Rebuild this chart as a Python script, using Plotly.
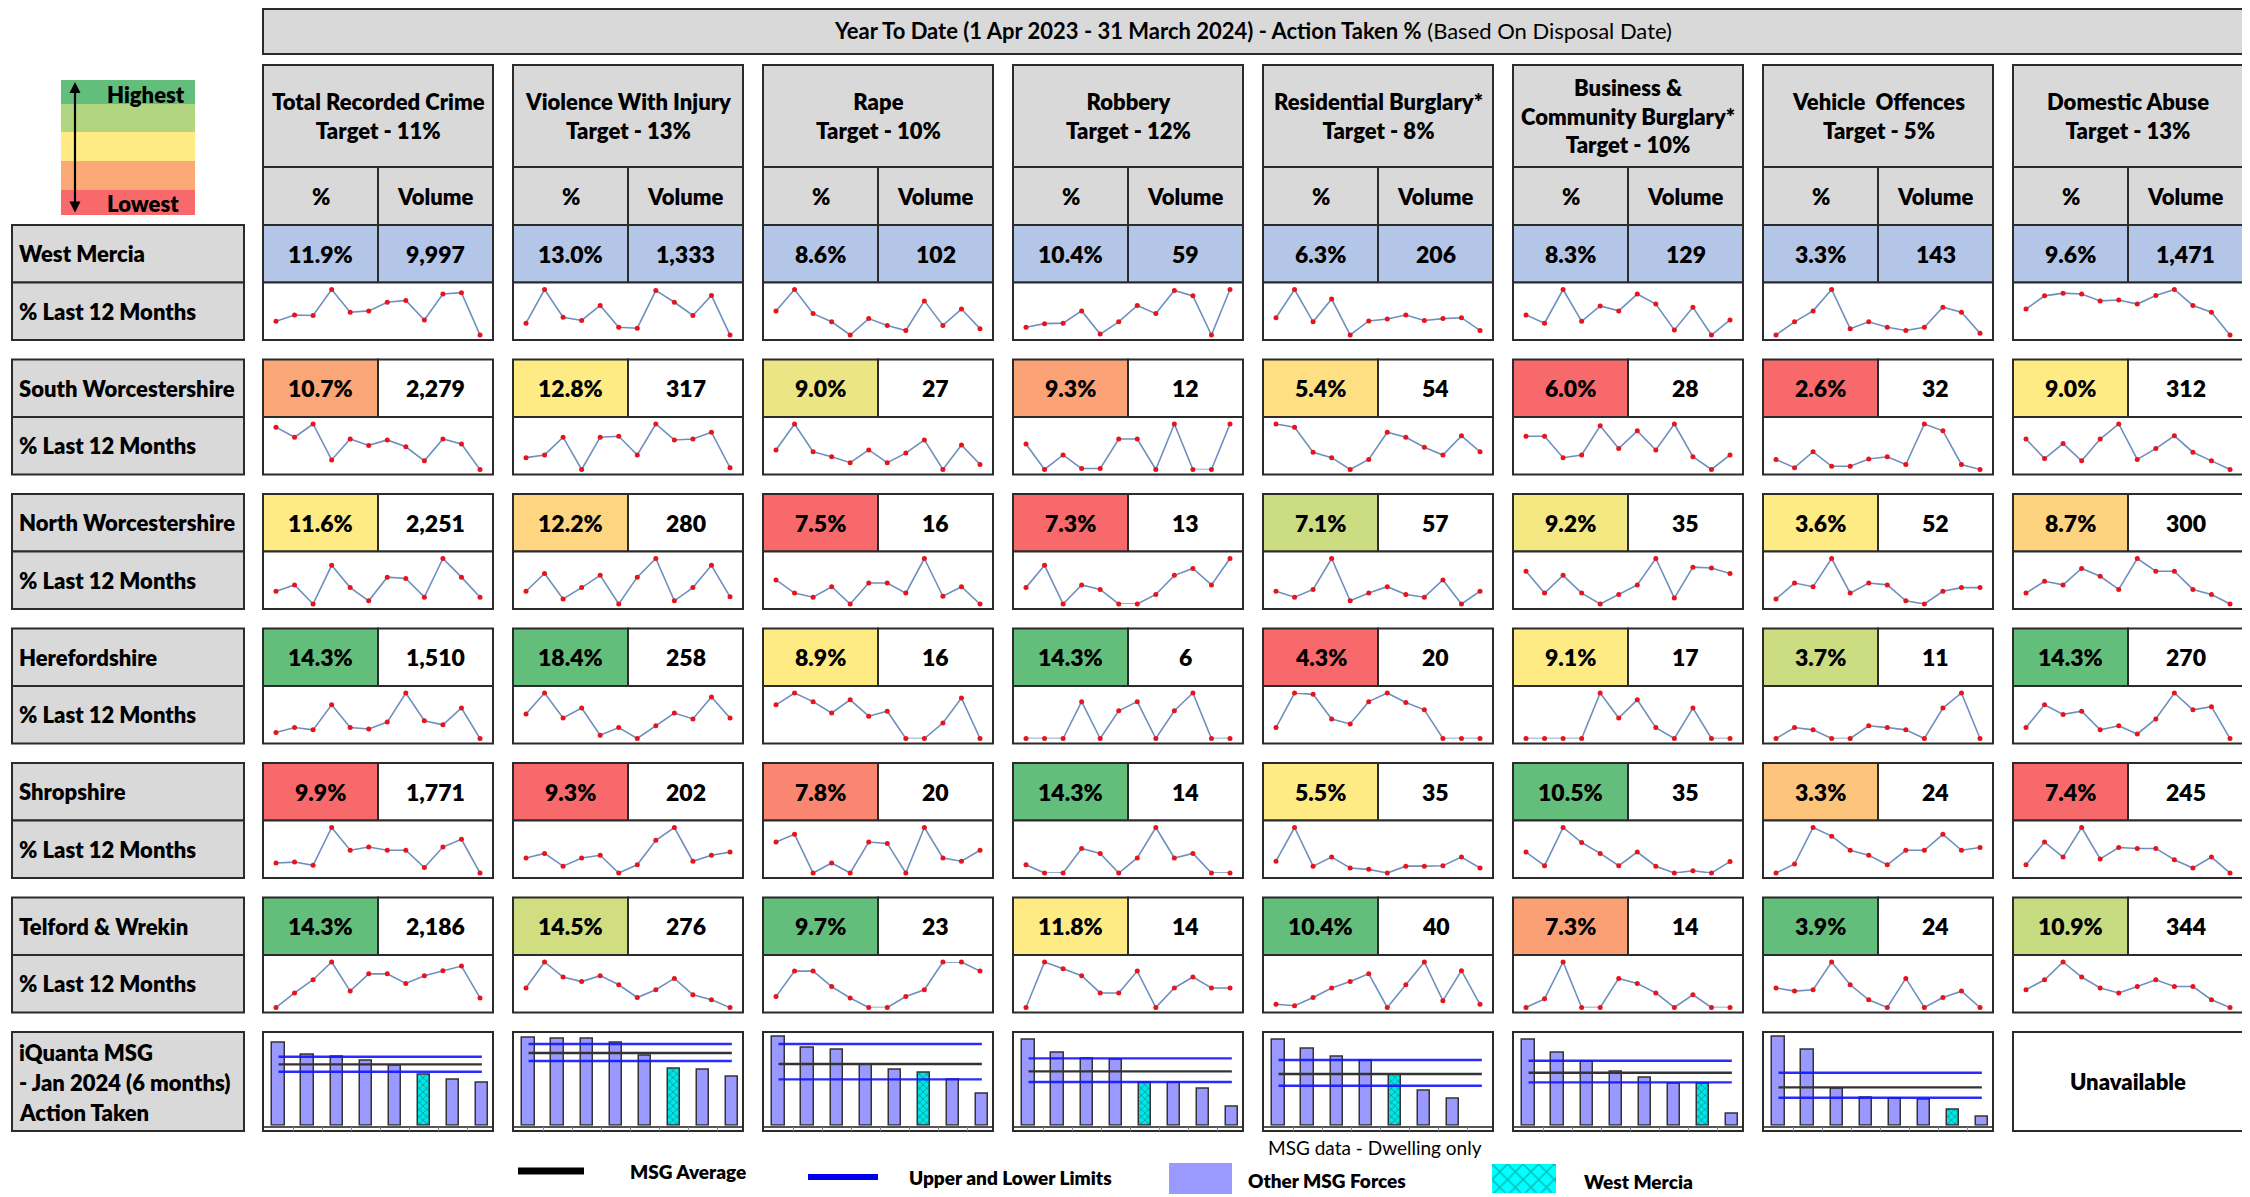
import plotly.graph_objects as go
from statistics import median

W, H = 2250, 1197
OFF = 8  # the page body has an 8px margin, so the figure starts at (8, 8)
FW, FH = W - OFF, H - OFF
FONT = "Lato, Liberation Sans, sans-serif"

# ---------------- data ----------------
crimes = ["Total Recorded Crime", "Violence With Injury", "Rape", "Robbery",
          "Residential Burglary*", "Business &<br>Community Burglary*",
          "Vehicle  Offences", "Domestic Abuse"]
targets = ["11%", "13%", "10%", "12%", "8%", "10%", "5%", "13%"]
areas = ["West Mercia", "South Worcestershire", "North Worcestershire",
         "Herefordshire", "Shropshire", "Telford & Wrekin"]

pct_west_mercia = [11.9, 13.0, 8.6, 10.4, 6.3, 8.3, 3.3, 9.6]
vol_west_mercia = [9997, 1333, 102, 59, 206, 129, 143, 1471]
pct_south_worcs = [10.7, 12.8, 9.0, 9.3, 5.4, 6.0, 2.6, 9.0]
vol_south_worcs = [2279, 317, 27, 12, 54, 28, 32, 312]
pct_north_worcs = [11.6, 12.2, 7.5, 7.3, 7.1, 9.2, 3.6, 8.7]
vol_north_worcs = [2251, 280, 16, 13, 57, 35, 52, 300]
pct_herefordshire = [14.3, 18.4, 8.9, 14.3, 4.3, 9.1, 3.7, 14.3]
vol_herefordshire = [1510, 258, 16, 6, 20, 17, 11, 270]
pct_shropshire = [9.9, 9.3, 7.8, 14.3, 5.5, 10.5, 3.3, 7.4]
vol_shropshire = [1771, 202, 20, 14, 35, 35, 24, 245]
pct_telford = [14.3, 14.5, 9.7, 11.8, 10.4, 7.3, 3.9, 10.9]
vol_telford = [2186, 276, 23, 14, 40, 14, 24, 344]

# last 12 months trend, relative level within each sparkline (0 = low, 10 = high)
spark_west_mercia = [
    [3.0, 4.4, 4.3, 10, 5.0, 5.3, 7.2, 7.6, 3.3, 9.0, 9.3, 0],
    [2.6, 10, 3.9, 3.2, 6.5, 1.7, 1.5, 9.8, 7.2, 4.3, 8.7, 0],
    [5.3, 10, 4.7, 2.9, 0, 3.6, 2.1, 1.0, 7.5, 2.1, 5.7, 1.4],
    [1.7, 2.5, 2.6, 5.3, 0.2, 2.9, 6.5, 4.7, 9.8, 8.6, 0, 10],
    [3.8, 10, 2.9, 7.9, 0, 3.1, 3.5, 4.4, 3.2, 3.6, 3.8, 1.0],
    [4.4, 2.6, 10, 3.0, 6.4, 5.3, 9.0, 6.8, 1.1, 6.1, 0, 3.3],
    [0, 2.9, 5.3, 10, 1.4, 2.9, 1.7, 1.0, 1.7, 6.1, 5.0, 0.4],
    [5.7, 8.6, 9.2, 9.0, 7.5, 7.7, 6.8, 8.7, 10, 6.5, 5.0, 0],
]
spark_south_worcs = [
    [9.3, 7.1, 10, 2.1, 6.7, 5.3, 6.5, 5.0, 1.9, 6.7, 5.6, 0],
    [2.6, 3.2, 7.1, 0, 7.1, 7.3, 3.2, 10, 6.5, 6.7, 8.2, 0.4],
    [4.3, 10, 3.9, 2.8, 1.5, 4.3, 1.5, 3.6, 6.5, 0, 5.4, 1.1],
    [5.6, 0, 3.2, 0.2, 0.2, 6.7, 6.7, 0, 10, 0, 0, 10],
    [10, 9.3, 3.8, 2.6, 0, 2.2, 8.2, 7.1, 4.9, 3.2, 7.4, 3.9],
    [7.3, 7.3, 2.6, 3.2, 9.6, 4.6, 8.5, 4.3, 10, 2.8, 0, 3.2],
    [2.2, 0.4, 3.9, 0.7, 0.7, 2.3, 2.8, 1.1, 10, 8.5, 1.1, 0],
    [6.7, 2.4, 5.7, 1.9, 6.7, 10, 2.2, 4.6, 7.4, 3.8, 1.9, 0],
]
spark_north_worcs = [
    [2.8, 4.2, 0, 8.5, 3.6, 0.7, 5.9, 5.6, 1.5, 10, 5.9, 1.5],
    [2.8, 6.7, 1.1, 3.6, 6.3, 0, 5.9, 10, 0.7, 3.6, 8.5, 1.6],
    [5.3, 2.4, 1.5, 3.8, 0, 4.6, 4.6, 2.4, 10, 1.7, 3.8, 0],
    [3.6, 8.5, 0, 4.2, 3.2, 0, 0, 2.1, 6.3, 7.8, 4.2, 10],
    [2.8, 1.5, 3.2, 10, 0.7, 2.4, 3.8, 2.1, 1.5, 5.3, 0, 2.8],
    [7.2, 2.4, 6.3, 2.4, 0, 2.1, 4.2, 10, 1.3, 8.1, 7.9, 6.7],
    [1.1, 4.6, 3.8, 10, 2.4, 4.6, 4.2, 0.7, 0, 2.8, 3.6, 3.6],
    [2.4, 5.0, 4.2, 7.8, 6.1, 3.2, 10, 7.2, 7.2, 3.2, 2.1, 0],
]
spark_herefordshire = [
    [1.3, 2.4, 1.9, 7.4, 2.4, 2.1, 3.6, 10, 3.9, 3.0, 6.7, 0],
    [5.4, 10, 4.5, 6.7, 0.7, 2.4, 0, 2.8, 5.6, 4.3, 9.1, 4.5],
    [7.4, 10, 8.1, 5.6, 8.5, 4.9, 6.0, 0, 0, 3.4, 8.9, 0],
    [0, 0, 0, 8.1, 0, 6.1, 8.1, 0, 6.1, 10, 0, 0],
    [2.4, 10, 9.7, 4.3, 3.2, 8.1, 10, 7.9, 6.3, 0, 0, 0],
    [0, 0, 0, 0, 10, 4.5, 8.5, 2.4, 0, 6.7, 0, 0],
    [0, 2.4, 1.9, 0, 0, 2.8, 2.4, 1.9, 0, 6.7, 10, 0],
    [2.4, 7.4, 5.3, 6.0, 1.9, 2.8, 1.0, 4.3, 10, 6.3, 7.0, 0],
]
spark_shropshire = [
    [2.2, 2.4, 1.7, 10, 5.0, 5.7, 5.0, 5.0, 1.2, 5.7, 7.4, 0],
    [3.3, 4.3, 1.5, 3.3, 3.9, 0, 1.8, 7.2, 10, 2.6, 3.9, 4.6],
    [6.8, 8.5, 0, 2.2, 0, 6.8, 6.5, 0, 10, 3.3, 2.6, 5.0],
    [1.8, 0, 0, 5.4, 4.3, 0, 3.3, 10, 3.3, 4.3, 0, 0],
    [2.6, 10, 1.5, 3.5, 1.1, 0.8, 0, 1.5, 1.5, 1.6, 3.5, 1.1],
    [4.6, 1.6, 10, 6.7, 4.3, 1.6, 4.6, 1.5, 0, 0.5, 0, 2.5],
    [0, 2.0, 10, 8.1, 5.0, 3.9, 1.8, 5.0, 5.0, 8.5, 5.0, 5.6],
    [1.8, 6.8, 3.5, 10, 3.1, 5.6, 5.4, 5.4, 2.9, 1.1, 3.5, 0],
]
spark_telford = [
    [0, 3.2, 6.1, 10, 3.6, 7.4, 7.4, 5.3, 7.0, 8.1, 9.1, 2.1],
    [4.3, 10, 6.7, 5.7, 7.0, 5.0, 2.2, 3.9, 6.4, 2.8, 1.7, 0],
    [2.4, 8.0, 8.0, 4.6, 2.1, 0, 0, 2.4, 3.9, 10, 10, 8.0],
    [0, 10, 8.5, 7.0, 3.2, 3.2, 8.0, 0, 4.3, 6.7, 4.3, 4.3],
    [0.7, 0.4, 2.2, 4.3, 5.7, 7.4, 0, 5.0, 10, 1.5, 8.1, 0.7],
    [0, 1.9, 10, 0, 0, 6.4, 5.3, 3.2, 0, 2.8, 0, 0],
    [4.3, 3.6, 3.9, 10, 5.0, 1.7, 0, 6.4, 0, 2.2, 3.6, 0],
    [3.9, 6.1, 10, 6.7, 4.3, 3.2, 4.6, 6.1, 4.6, 4.6, 1.7, 0],
]

# iQuanta MSG bars (relative heights), one list per crime type (Domestic Abuse unavailable)
msg_bars = [
    [250, 212, 207, 195, 180, 152, 139, 130],
    [264, 262, 262, 249, 211, 172, 169, 147],
    [267, 234, 229, 182, 169, 160, 139, 95],
    [259, 220, 200, 197, 129, 129, 110, 57],
    [259, 230, 207, 194, 152, 105, 82, None],
    [259, 220, 192, 162, 144, 127, 127, 37],
    [267, 229, 110, 84, 80, 77, 47, 27],
]
msg_wm_index = [5, 5, 5, 4, 4, 6, 6]
msg_upper = [207, 245, 245, 202, 197, 195, 159]
msg_average = [184, 218, 185, 163, 155, 159, 115]
msg_lower = [162, 194, 139, 131, 120, 130, 84]

pct_rows = [pct_west_mercia, pct_south_worcs, pct_north_worcs,
            pct_herefordshire, pct_shropshire, pct_telford]
vol_rows = [vol_west_mercia, vol_south_worcs, vol_north_worcs,
            vol_herefordshire, vol_shropshire, vol_telford]
spark_rows = [spark_west_mercia, spark_south_worcs, spark_north_worcs,
              spark_herefordshire, spark_shropshire, spark_telford]

# ---------------- helpers ----------------
GREY = "#d9d9d9"
WM_BLUE = "#b4c6e7"
BORDER = "#2b2b2b"
shapes, annotations, traces = [], [], []
layout_axes = {}


def px_x(x):
    return (x - OFF) / FW


def px_y(y):
    return 1 - (y - OFF) / FH


def rect(x0, y0, x1, y1, fill, lw=2, line=BORDER):
    shapes.append(dict(type="rect", xref="paper", yref="paper",
                       x0=px_x(x0), x1=px_x(x1), y0=px_y(y1), y1=px_y(y0),
                       fillcolor=fill, line=dict(color=line, width=lw), layer="below"))


def text(x, y, s, size=22, anchor="center", weight=800):
    annotations.append(dict(x=px_x(x), y=px_y(y), xref="paper", yref="paper",
                            text=s, showarrow=False, xanchor=anchor, yanchor="middle",
                            font=dict(size=size, color="black", family=FONT, weight=weight)))


def lerp(c1, c2, t):
    return "rgb(%d,%d,%d)" % tuple(round(a + (b - a) * t) for a, b in zip(c1, c2))


RED, YEL, GRN = (248, 105, 107), (255, 235, 132), (99, 190, 123)


def scale_colour(v, vals):
    lo, mid, hi = min(vals), median(vals), max(vals)
    if v <= mid:
        return lerp(RED, YEL, (v - lo) / (mid - lo) if mid > lo else 1)
    return lerp(YEL, GRN, (v - mid) / (hi - mid))


def new_axes(k, xdom, ydom, xrange, yrange, xextra=None):
    xn = "xaxis" if k == 1 else f"xaxis{k}"
    yn = "yaxis" if k == 1 else f"yaxis{k}"
    xr = "x" if k == 1 else f"x{k}"
    yr = "y" if k == 1 else f"y{k}"
    xa = dict(domain=xdom, range=xrange, visible=False, anchor=yr, fixedrange=True)
    if xextra:
        xa.update(xextra)
    layout_axes[xn] = xa
    layout_axes[yn] = dict(domain=ydom, range=yrange, visible=False, anchor=xr, fixedrange=True)
    return xr, yr


# ---------------- title / legend box ----------------
rect(263, 9, 2243, 54, GREY)
text(1253, 31, "<b>Year To Date (1 Apr 2023 - 31 March 2024) - Action Taken %</b> (Based On Disposal Date)",
     22, weight=400)

bands = [(80, 104, "#63be7b"), (104, 132, "#b1d580"), (132, 161, "#ffeb84"),
         (161, 190, "#fbaa77"), (190, 215, "#f8696b")]
for y0, y1, c in bands:
    rect(61, y0, 195, y1, c, lw=0, line=c)
text(105, 95, "Highest", 22, "left")
text(105, 203, "Lowest", 22, "left")
annotations.append(dict(x=px_x(75), y=px_y(82), xref="paper", yref="paper", ax=0, ay=132,
                        text="", showarrow=True, arrowhead=2, arrowside="end+start",
                        arrowsize=1, arrowwidth=2.2, arrowcolor="black"))

# ---------------- column headers ----------------
for c in range(8):
    cl = 263 + 250 * c
    rect(cl, 65, cl + 230, 167, GREY)
    rect(cl, 167, cl + 115, 225, GREY)
    rect(cl + 115, 167, cl + 230, 225, GREY)
    text(cl + 115, 116, f"{crimes[c]}<br>Target - {targets[c]}", 22)
    text(cl + 57.5, 196, "%", 22)
    text(cl + 172.5, 196, "Volume", 22)

# ---------------- area rows ----------------
group_tops = [225, 359.5, 494, 628.5, 763, 897.5]
ROW_H = 57.5
k = 0
for g, area in enumerate(areas):
    top = group_tops[g]
    mid = top + ROW_H
    bot = mid + ROW_H
    rect(12, top, 244, mid, GREY)
    rect(12, mid, 244, bot, GREY)
    text(17, (top + mid) / 2, area, 22, "left")
    text(17, (mid + bot) / 2, "% Last 12 Months", 22, "left")
    for c in range(8):
        cl = 263 + 250 * c
        v = pct_rows[g][c]
        if g == 0:
            fp, fv = WM_BLUE, WM_BLUE
        else:
            fp, fv = scale_colour(v, [r[c] for r in pct_rows[1:]]), "white"
        rect(cl, top, cl + 115, mid, fp)
        rect(cl + 115, top, cl + 230, mid, fv)
        rect(cl, mid, cl + 230, bot, "white")
        text(cl + 57.5, (top + mid) / 2, f"{v:.1f}%", 23)
        text(cl + 172.5, (top + mid) / 2, f"{vol_rows[g][c]:,}", 23)

        k += 1
        xr, yr = new_axes(k, [px_x(cl + 13), px_x(cl + 217)],
                          [px_y(bot - 5), px_y(mid + 7)], [0, 11], [0, 10])
        traces.append(go.Scatter(x=list(range(12)), y=spark_rows[g][c], xaxis=xr, yaxis=yr,
                                 mode="lines+markers", cliponaxis=False,
                                 line=dict(color="#6f8fbf", width=1.6),
                                 marker=dict(color="#e8141c", size=5)))

# ---------------- iQuanta MSG bar charts ----------------
rect(12, 1032, 244, 1131, GREY)
text(17, 1052, "iQuanta MSG", 22, "left")
text(17, 1082, "- Jan 2024 (6 months)", 22, "left")
text(17, 1112, "Action Taken", 22, "left")

for c in range(8):
    cl = 263 + 250 * c
    rect(cl, 1032, cl + 230, 1131, "white")
    if c == 7:
        text(cl + 115, 1081, "Unavailable", 22)
        continue
    k += 1
    xr, yr = new_axes(k, [px_x(cl + 1), px_x(cl + 229)],
                      [px_y(1125.7), px_y(1031.7)], [-0.5, 7.35], [0, 282],
                      xextra=dict(visible=True, showline=True, linecolor="#555", linewidth=1.5,
                                  ticks="outside", ticklen=4, tickcolor="#888",
                                  tickvals=[i + 0.5 for i in range(8)], showticklabels=False,
                                  showgrid=False, zeroline=False))
    wi = msg_wm_index[c]
    others = [None if i == wi else b for i, b in enumerate(msg_bars[c])]
    wm = [b if i == wi else None for i, b in enumerate(msg_bars[c])]
    traces.append(go.Bar(x=list(range(8)), y=others, xaxis=xr, yaxis=yr, width=0.42,
                         marker=dict(color="#9999ff", line=dict(color="#333", width=1.5))))
    traces.append(go.Bar(x=list(range(8)), y=wm, xaxis=xr, yaxis=yr, width=0.42,
                         marker=dict(color="#00e5e5", line=dict(color="#333", width=1.5),
                                     pattern=dict(shape="x", size=5, solidity=0.3,
                                                  fgcolor="#0a4f4f", bgcolor="#00e5e5"))))
    for val, col in [(msg_upper[c], "rgba(20,20,255,0.9)"), (msg_lower[c], "rgba(20,20,255,0.9)"),
                     (msg_average[c], "#333333")]:
        traces.append(go.Scatter(x=[0, 7], y=[val, val], xaxis=xr, yaxis=yr, mode="lines",
                                 line=dict(color=col, width=2.4)))

text(1375, 1147, "MSG data - Dwelling only", 19, weight=400)

# ---------------- bottom legend ----------------
shapes.append(dict(type="line", xref="paper", yref="paper", x0=px_x(518), x1=px_x(584),
                   y0=px_y(1171), y1=px_y(1171), line=dict(color="black", width=7)))
text(628, 1171, "MSG Average", 19, "left")
shapes.append(dict(type="line", xref="paper", yref="paper", x0=px_x(808), x1=px_x(878),
                   y0=px_y(1177), y1=px_y(1177), line=dict(color="#0000ee", width=6)))
text(907, 1177, "Upper and Lower Limits", 19, "left")
rect(1169, 1163, 1232, 1194, "#9999ff", lw=0, line="#9999ff")
text(1246, 1180, "Other MSG Forces", 19, "left")
k += 1
xr, yr = new_axes(k, [px_x(1492), px_x(1556)], [px_y(1193), px_y(1164)], [-0.5, 0.5], [0, 1])
traces.append(go.Bar(x=[0], y=[1], xaxis=xr, yaxis=yr, width=1,
                     marker=dict(color="#00ffff", line=dict(width=0),
                                 pattern=dict(shape="x", size=11, solidity=0.25,
                                              fgcolor="#127070", bgcolor="#00ffff"))))
text(1582, 1181, "West Mercia", 19, "left")

fig = go.Figure(data=traces)
fig.update_layout(width=FW, height=FH, margin=dict(l=0, r=0, t=0, b=0),
                  paper_bgcolor="white", plot_bgcolor="rgba(0,0,0,0)",
                  showlegend=False, barmode="overlay", bargap=0,
                  shapes=shapes, annotations=annotations,
                  font=dict(family=FONT), **layout_axes)
fig.write_html("out.html")
